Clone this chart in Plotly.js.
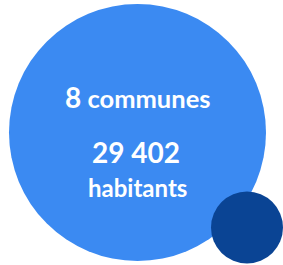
<!DOCTYPE html>
<html>
<head>
<meta charset="utf-8">
<script src="https://cdn.plot.ly/plotly-3.0.1.min.js"></script>
<style>html,body{margin:0;padding:0;background:#fff;}#chart{width:283px;height:265px;}</style>
</head>
<body>
<div id="chart"></div>
<script>
// Values
const communesCount = ["8"];
const communesLabel = ["communes"];
const habitantsCount = ["29 402"];
const habitantsLabel = ["habitants"];
const bubbleNames = ["territoire", "accent"];

const font = "Lato, 'Open Sans', sans-serif";

const trace = {
  type: "scatter",
  mode: "markers",
  x: [137.5, 247],
  y: [132.5, 227.5],
  text: bubbleNames,
  hoverinfo: "none",
  marker: {
    size: [257, 72],
    color: ["#3B8AF2", "#0A4494"],
    opacity: 1,
    line: {width: 0}
  },
  cliponaxis: false
};

const layout = {
  width: 283, height: 265,
  margin: {l: 0, r: 0, t: 0, b: 0, pad: 0},
  paper_bgcolor: "#ffffff",
  plot_bgcolor: "#ffffff",
  showlegend: false,
  xaxis: {range: [0, 283], visible: false, fixedrange: true},
  yaxis: {range: [265, 0], visible: false, fixedrange: true},
  annotations: [
    {x: 137.5, y: 97, xref: "x", yref: "y", showarrow: false,
     text: "<b><span style='font-size:28px'>" + communesCount[0] + "</span> " + communesLabel[0] + "</b>",
     font: {family: font, size: 25.5, color: "#ffffff"}},
    {x: 135.5, y: 152, xref: "x", yref: "y", showarrow: false,
     text: "<b>" + habitantsCount[0] + "</b>",
     font: {family: font, size: 28, color: "#ffffff"}},
    {x: 137.5, y: 187, xref: "x", yref: "y", showarrow: false,
     text: "<b>" + habitantsLabel[0] + "</b>",
     font: {family: font, size: 24, color: "#ffffff"}}
  ]
};

Plotly.newPlot("chart", [trace], layout, {displayModeBar: false, staticPlot: true});
</script>
</body>
</html>
